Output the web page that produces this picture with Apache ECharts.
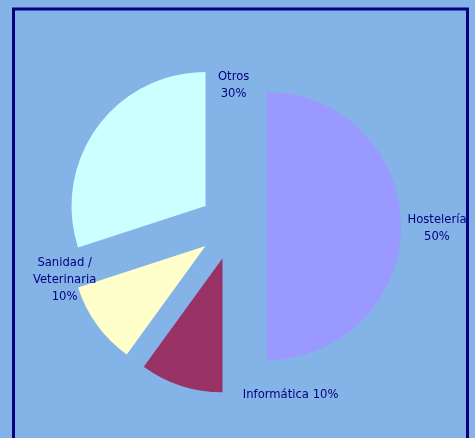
<!DOCTYPE html>
<html>
<head>
<meta charset="utf-8">
<script src="https://cdn.jsdelivr.net/npm/echarts@6/dist/echarts.min.js"></script>
<style>
  html, body { margin:0; padding:0; background:#84b3e7; }
  #chart { width:475px; height:438px; }
</style>
</head>
<body>
<div id="chart"></div>
<script>
  // sectores y porcentajes
  const sectors = ['Hostelería', 'Informática', 'Sanidad /\nVeterinaria', 'Otros'];
  const shares = [50, 10, 10, 30];
  const sliceColors = ['#9999ff', '#993366', '#ffffcc', '#ccffff'];
  const labelTexts = ['Hostelería\n50%', 'Informática 10%', 'Sanidad /\nVeterinaria\n10%', 'Otros\n30%'];
  // ajuste fino de las etiquetas (px)
  const labelShift = [[23,2],[117,2],[-21,-49],[148,-37]];

  const chart = echarts.init(document.getElementById('chart'), null, {renderer:'canvas'});
  chart.setOption({
    backgroundColor:'#84b3e7',
    animation:false,
    graphic:[{
      type:'rect', silent:true,
      shape:{x:13.5, y:9, width:454, height:450},
      style:{fill:null, stroke:'#000080', lineWidth:3}
    }],
    series:[{
      type:'pie',
      center:[233, 226],
      radius:134,
      startAngle:90,
      clockwise:true,
      selectedMode:'multiple',
      selectedOffset:34,
      emphasis:{disabled:true},
      select:{itemStyle:{}},
      label:{
        show:true, position:'outside', color:'#000080',
        fontFamily:'DejaVu Sans', fontSize:11.6, lineHeight:17
      },
      labelLine:{show:false, length:8, length2:0},
      labelLayout:function(p){
        const s = labelShift[p.dataIndex];
        return {dx:s[0], dy:s[1], align:'center'};
      },
      data:sectors.map((name, i) => ({
        name:name, value:shares[i], selected:true,
        itemStyle:{color:sliceColors[i]},
        label:{formatter:labelTexts[i]}
      }))
    }]
  });
</script>
</body>
</html>
